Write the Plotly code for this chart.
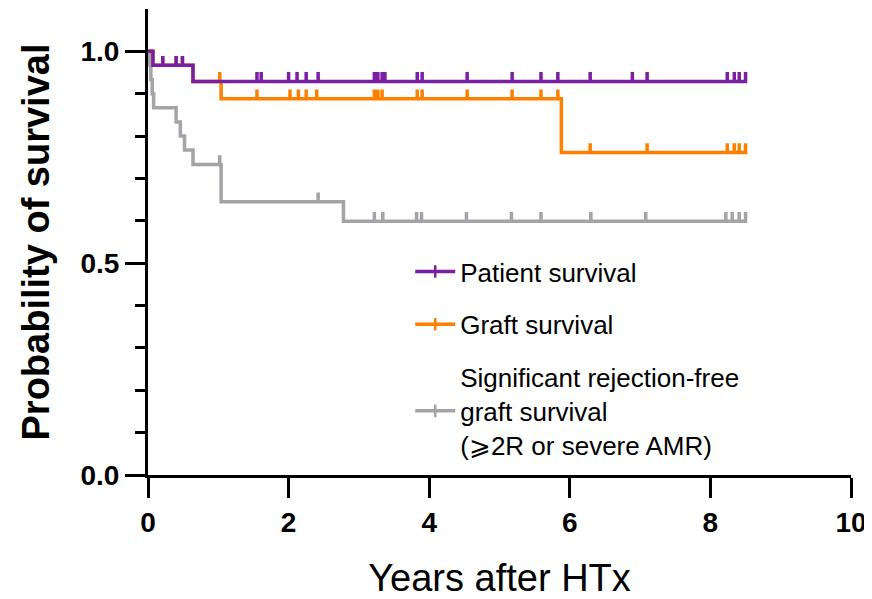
import plotly.graph_objects as go

# ---- data ----
patient_event_times = [0.07, 0.64]
patient_event_surv = [0.967, 0.929]
patient_censor_times = [0.21, 0.40, 0.49, 1.55, 1.61, 2.00, 2.12, 2.25, 2.42, 3.22, 3.27, 3.33,
                        3.37, 3.83, 3.90, 4.54, 5.18, 5.59, 5.83, 6.29, 6.89, 7.10, 8.24, 8.34,
                        8.41, 8.50]

graft_event_times = [0.07, 0.64, 1.04, 5.88]
graft_event_surv = [0.967, 0.929, 0.888, 0.761]
graft_censor_times = [0.21, 0.40, 0.49, 1.02, 1.55, 2.02, 2.14, 2.25, 2.40, 3.22, 3.27, 3.33,
                      3.83, 3.90, 4.54, 5.18, 5.59, 5.83, 6.29, 7.10, 8.24, 8.34, 8.41, 8.50]

rej_event_times = [0.02, 0.04, 0.06, 0.08, 0.40, 0.46, 0.52, 0.64, 1.04, 2.78]
rej_event_surv = [0.967, 0.933, 0.900, 0.867, 0.833, 0.800, 0.767, 0.733, 0.645, 0.599]
rej_censor_times = [1.02, 2.42, 3.22, 3.34, 3.82, 3.89, 4.53, 5.17, 5.59, 6.30, 7.08, 8.22,
                    8.31, 8.41, 8.50]

series_names = ["Patient survival", "Graft survival",
                "Significant rejection-free<br>graft survival<br>(\u2a7e2R or severe AMR)"]
series_colors = ["#7a1fa2", "#ff8000", "#a3a3a8"]

x_tick_vals = [0, 2, 4, 6, 8, 10]
y_tick_vals = [0.0, 0.5, 1.0]
y_tick_text = ["0.0", "0.5", "1.0"]

TICK_H = 0.022  # censor mark height (style)


def km_path(ev_t, ev_s, cens_t):
    events = [(t, 1, s) for t, s in zip(ev_t, ev_s)] + [(t, 0, None) for t in cens_t]
    events.sort(key=lambda e: (e[0], e[1]))
    xs, ys = [0.0], [1.0]
    s = 1.0
    for t, kind, snew in events:
        if kind == 1:
            xs += [t, t]
            ys += [s, snew]
            s = snew
        else:
            xs += [t, t, t]
            ys += [s, s + TICK_H, s]
    return xs, ys


fig = go.Figure()
data = [
    (patient_event_times, patient_event_surv, patient_censor_times),
    (graft_event_times, graft_event_surv, graft_censor_times),
    (rej_event_times, rej_event_surv, rej_censor_times),
]
# draw gray first, purple on top
for i in [2, 1, 0]:
    xs, ys = km_path(*data[i])
    fig.add_trace(go.Scatter(x=xs, y=ys, mode="lines", showlegend=False,
                             line=dict(color=series_colors[i], width=3.5), hoverinfo="skip"))

for i in range(3):
    fig.add_trace(go.Scatter(x=[None], y=[None], mode="lines+markers", name=series_names[i],
                             legendgroup=f"g{i}", legendrank=i + 1,
                             line=dict(color=series_colors[i], width=3.5),
                             marker=dict(symbol="line-ns", size=9,
                                         line=dict(color=series_colors[i], width=2.5))))

FONT = "Liberation Sans, Arial, sans-serif"
# page body has an 8px default margin, so the figure is sized/offset to compensate
fig.update_layout(
    width=864, height=591,
    margin=dict(l=140, r=21, t=1, b=124, autoexpand=False),
    plot_bgcolor="white", paper_bgcolor="white",
    font=dict(family=FONT, color="black"),
    legend=dict(x=0.373, y=0.487, xanchor="left", yanchor="top",
                font=dict(size=26, family=FONT), tracegroupgap=16,
                bgcolor="rgba(0,0,0,0)", itemwidth=40, valign="middle"),
    xaxis=dict(range=[0, 10], tickvals=x_tick_vals, ticks="outside", ticklen=20, tickwidth=3,
               tickcolor="black", showline=True, linewidth=3, linecolor="black",
               showgrid=False, zeroline=False, automargin=False,
               tickfont=dict(size=28, family=FONT, weight="bold"),
               title=dict(text="Years after HTx", font=dict(size=38, family=FONT), standoff=28)),
    yaxis=dict(range=[0, 1.1], tickvals=y_tick_vals, ticktext=y_tick_text, ticks="outside",
               ticklen=20, tickwidth=3, tickcolor="black", showline=True, linewidth=3,
               linecolor="black", showgrid=False, zeroline=False, automargin=False,
               minor=dict(tickvals=[0.1, 0.2, 0.3, 0.4, 0.6, 0.7, 0.8, 0.9], ticks="outside",
                          ticklen=10, tickwidth=3, tickcolor="black"),
               tickfont=dict(size=28, family=FONT, weight="bold"),
               title=dict(text="Probability of survival",
                          font=dict(size=38, family=FONT, weight="bold"), standoff=20)),
)

fig.write_html("out.html")
